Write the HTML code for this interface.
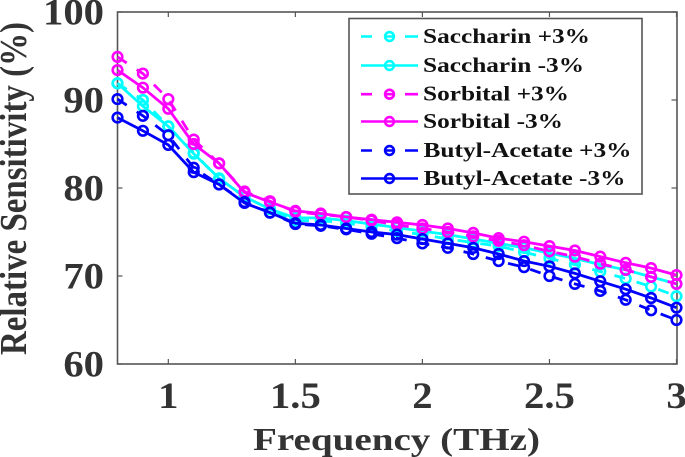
<!DOCTYPE html>
<html>
<head>
<meta charset="utf-8">
<style>
html,body{margin:0;padding:0;background:#fff;}
svg{display:block;}
text{font-family:"Liberation Serif",serif;font-weight:bold;}
</style>
</head>
<body>
<svg id="chart" width="685" height="457" viewBox="0 0 685 457" xmlns="http://www.w3.org/2000/svg"></svg>
<script>
const frequencies = [0.8,0.9,1.0,1.1,1.2,1.3,1.4,1.5,1.6,1.7,1.8,1.9,2.0,2.1,2.2,2.3,2.4,2.5,2.6,2.7,2.8,2.9,3.0];
const saccharinPlus = [91.9,90.0,87.0,84.0,81.0,79.0,77.6,76.3,76.3,76.0,75.6,75.1,74.7,74.2,73.8,73.4,72.7,72.0,71.3,70.5,69.7,68.8,67.7];
const saccharinMinus = [91.9,89.3,87.0,83.9,81.1,79.0,77.6,76.6,76.6,76.3,75.9,75.5,75.1,74.7,74.2,73.7,73.2,72.6,72.0,71.3,70.7,69.9,69.1];
const sorbitalPlus = [94.9,93.0,90.1,85.5,82.8,79.6,78.5,77.3,77.0,76.7,76.3,75.8,75.4,75.0,74.5,74.0,73.5,72.8,72.2,71.4,70.7,69.9,69.1];
const sorbitalMinus = [93.4,91.4,89.0,85.0,82.8,79.5,78.4,77.4,77.1,76.7,76.4,76.1,75.8,75.4,74.9,74.3,73.9,73.4,72.9,72.2,71.5,70.9,70.1];
const butylPlus = [90.1,88.2,86.0,82.3,80.4,78.4,77.2,75.9,75.7,75.3,74.8,74.3,73.7,73.2,72.5,71.7,71.0,70.0,69.1,68.3,67.3,66.1,65.0];
const butylMinus = [88.0,86.5,84.9,81.8,80.4,78.3,77.2,76.0,75.8,75.4,75.0,74.7,74.2,73.7,73.2,72.5,71.7,71.1,70.3,69.4,68.5,67.5,66.4];
const seriesLabels = ["Saccharin +3%","Saccharin -3%","Sorbital +3%","Sorbital -3%","Butyl-Acetate +3%","Butyl-Acetate -3%"];
const xTicks = [1,1.5,2,2.5,3];
const xTickLabels = ["1","1.5","2","2.5","3"];
const yTicks = [60,70,80,90,100];
const yTickLabels = ["60","70","80","90","100"];

const NS = "http://www.w3.org/2000/svg";
const svg = document.getElementById("chart");
const xScale = v => 117.5 + (v - 0.8) * (559 / 2.2);
const yScale = v => 364 - (v - 60) * 8.8;
function mk(tag, attrs, parent){
  const e = document.createElementNS(NS, tag);
  for (const k in attrs) e.setAttribute(k, attrs[k]);
  (parent || svg).appendChild(e);
  return e;
}
const axisColor = "#555";
const labelColor = "#333";

const seriesStyles = [
  {values:saccharinPlus,color:"#00ffff",dash:"11 12"},
  {values:saccharinMinus,color:"#00ffff",dash:""},
  {values:sorbitalPlus,color:"#ff00ff",dash:"11 12"},
  {values:sorbitalMinus,color:"#ff00ff",dash:""},
  {values:butylPlus,color:"#0000ff",dash:"11 12"},
  {values:butylMinus,color:"#0000ff",dash:""}
];

// axes
const frame = mk("rect",{x:117.5,y:12,width:559.5,height:352,fill:"none",stroke:axisColor,"stroke-width":1.6});



xTicks.forEach((t,i)=>{
  const x = xScale(t);
  const b = mk("line",{x1:x,x2:x,y1:364,y2:359,stroke:axisColor,"stroke-width":1.2});
  
  
  const u = mk("line",{x1:x,x2:x,y1:12,y2:17,stroke:axisColor,"stroke-width":1.2});
  
  
  const l = mk("text",{"text-anchor":"middle","font-size":37,fill:labelColor,
    transform:`translate(${x},408) scale(1.1,1)`});
  l.textContent = xTickLabels[i];
  
  
});
yTicks.forEach((t,i)=>{
  const y = yScale(t);
  const a = mk("line",{x1:117.5,x2:122.5,y1:y,y2:y,stroke:axisColor,"stroke-width":1.2});
  
  
  const c = mk("line",{x1:676.5,x2:671.5,y1:y,y2:y,stroke:axisColor,"stroke-width":1.2});
  
  
  const l = mk("text",{"text-anchor":"end","font-size":37,fill:labelColor,
    transform:`translate(104,${y+12.5}) scale(1.1,1)`});
  l.textContent = yTickLabels[i];
  
  
});

// series
seriesStyles.forEach((s,i)=>{
  const g = mk("g",{});
  
  
  const pts = s.values.map((v,j)=>xScale(frequencies[j]).toFixed(1)+","+yScale(v).toFixed(1)).join(" ");
  const line = mk("polyline",{points:pts,fill:"none",stroke:s.color,"stroke-width":2.8,"stroke-dasharray":s.dash},g);
  
  
  s.values.forEach((v,j)=>{
    const c = mk("circle",{cx:xScale(frequencies[j]),cy:yScale(v),r:4.8,fill:"none",stroke:s.color,"stroke-width":2.6},g);
    
    
  });
});

// legend
const legend = mk("g",{});


const legendBox = mk("rect",{x:349,y:18.5,width:293,height:175.5,fill:"#fff",stroke:axisColor,"stroke-width":1.6},legend);


const legendWidths = [167,161,146,140,208,202];
const legendBase = [43,72,100.7,128,157,185];
seriesStyles.forEach((s,i)=>{
  const g = mk("g",{},legend);
  
  
  const y = legendBase[i]-6.5;
  const ln = mk("line",{x1:361,x2:418,y1:y,y2:y,stroke:s.color,"stroke-width":2.6,"stroke-dasharray":s.dash?"11 14 7 12 13":""},g);
  
  
  const c = mk("circle",{cx:389.5,cy:y,r:4.4,fill:"none",stroke:s.color,"stroke-width":2.6},g);
  
  
  const t = mk("text",{x:i>3?423.5:423,y:legendBase[i],"font-size":21,fill:"#111",textLength:legendWidths[i],lengthAdjust:"spacingAndGlyphs"},g);
  t.textContent = seriesLabels[i];
  
  
});

// axis titles
const xTitle = mk("text",{x:253,y:450,"font-size":32,fill:labelColor,textLength:287,lengthAdjust:"spacingAndGlyphs"});
xTitle.textContent = "Frequency (THz)";


const yTitle = mk("text",{x:0,y:0,"font-size":38,fill:labelColor,textLength:333,lengthAdjust:"spacingAndGlyphs",transform:"translate(26,355) rotate(-90)"});
yTitle.textContent = "Relative Sensitivity (%)";


</script>
</body>
</html>
